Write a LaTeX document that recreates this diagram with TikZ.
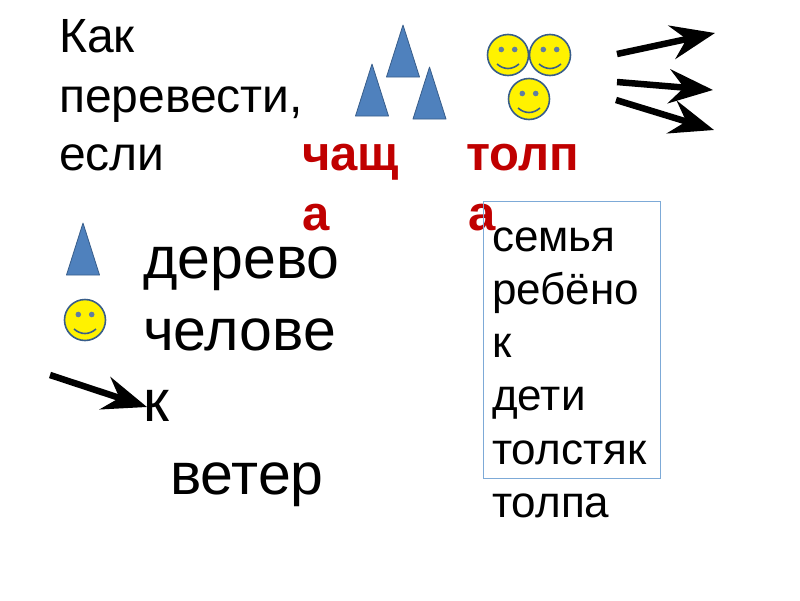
\documentclass[tikz,border=0pt]{standalone}
\usepackage{xcolor}
\usepackage{fontspec}
\setmainfont{Liberation Sans}
\usetikzlibrary{arrows.meta}
\definecolor{treeblue}{RGB}{79, 129, 189}
\definecolor{treeedge}{RGB}{56, 93, 138}
\definecolor{wordred}{RGB}{192, 0, 0}
\definecolor{boxblue}{RGB}{125, 170, 215}

\begin{document}
\begin{tikzpicture}[x=1pt, y=-1pt,
  word/.style={anchor=base west, inner sep=0pt, font=\fontsize{59}{59}\selectfont},
  lead/.style={anchor=base west, inner sep=0pt, font=\fontsize{48}{48}\selectfont},
  small/.style={anchor=base west, inner sep=0pt, font=\fontsize{44}{44}\selectfont},
  redword/.style={anchor=base west, inner sep=0pt, text=wordred, font=\fontsize{49}{49}\selectfont\bfseries},
  tree/.style={fill=treeblue, draw=treeedge, line width=0.8pt, line join=round},
  wind/.style={-{Stealth[length=44pt, width=34pt, inset=15pt]}, line width=6.5pt, black}
]
  \useasboundingbox (0,0) rectangle (800,600);

  % trees
  \newcommand{\treeat}[2]{\draw[tree] (#1,#2) -- (#1+16.5,#2+52) -- (#1-16.5,#2+52) -- cycle;}
  % people
  \newcommand{\smileat}[2]{
    \draw[fill=yellow, draw=treeedge, line width=1.6pt] (#1,#2) circle (20.5);
    \fill[fill=treeedge!80] (#1-6.7,#2-5.5) circle (2.8) (#1+6.7,#2-5.5) circle (2.8);
    \draw[treeedge, line width=1.6pt] (#1-11,#2+9) .. controls (#1-4,#2+15) and (#1+4,#2+15) .. (#1+11,#2+9);
  }

  \node[lead] (kak) at (59,52) {Как};
  \node[lead] (perevesti) at (59,112) {перевести,};
  \node[lead] (esli) at (59,170) {если};

  \treeat{403}{25}
  \treeat{372}{64}
  \treeat{429.5}{67}
  \smileat{508}{55}
  \smileat{550}{55}
  \smileat{529}{99}

  \coordinate (w1s) at (617,54);
  \coordinate (w1e) at (715,33);
  \coordinate (w2s) at (617,82);
  \coordinate (w2e) at (713,90);
  \coordinate (w3s) at (616,100);
  \coordinate (w3e) at (714,130);
  \draw[wind] (w1s) -- (w1e);
  \draw[wind] (w2s) -- (w2e);
  \draw[wind] (w3s) -- (w3e);

  \node[redword] (chashch) at (302,170) {чащ};
  \node[redword] (chashcha) at (302,230) {а};
  \node[redword] (tolp) at (466,170) {толп};
  \node[redword] (tolpa) at (468,230) {а};

  \draw[boxblue, line width=1pt] (483.5,201) rectangle (660.5,478);
  \node[small] (semya) at (492,251) {семья};
  \node[small] (rebyono) at (492,304) {ребёно};
  \node[small] (k) at (492,357) {к};
  \node[small] (deti) at (492,410) {дети};
  \node[small] (tolstyak) at (492,464) {толстяк};
  \node[small] (tolpabox) at (492,517) {толпа};

  \treeat{83}{223}
  \smileat{85}{320}
  \coordinate (w4s) at (50,375);
  \coordinate (w4e) at (147,407);
  \draw[wind] (w4s) -- (w4e);

  \node[word] (derevo) at (143,278) {дерево};
  \node[word] (chelove) at (143,350) {челове};
  \node[word] (kk) at (143,421) {к};
  \node[word] (veter) at (170,494) {ветер};
\end{tikzpicture}
\end{document}
